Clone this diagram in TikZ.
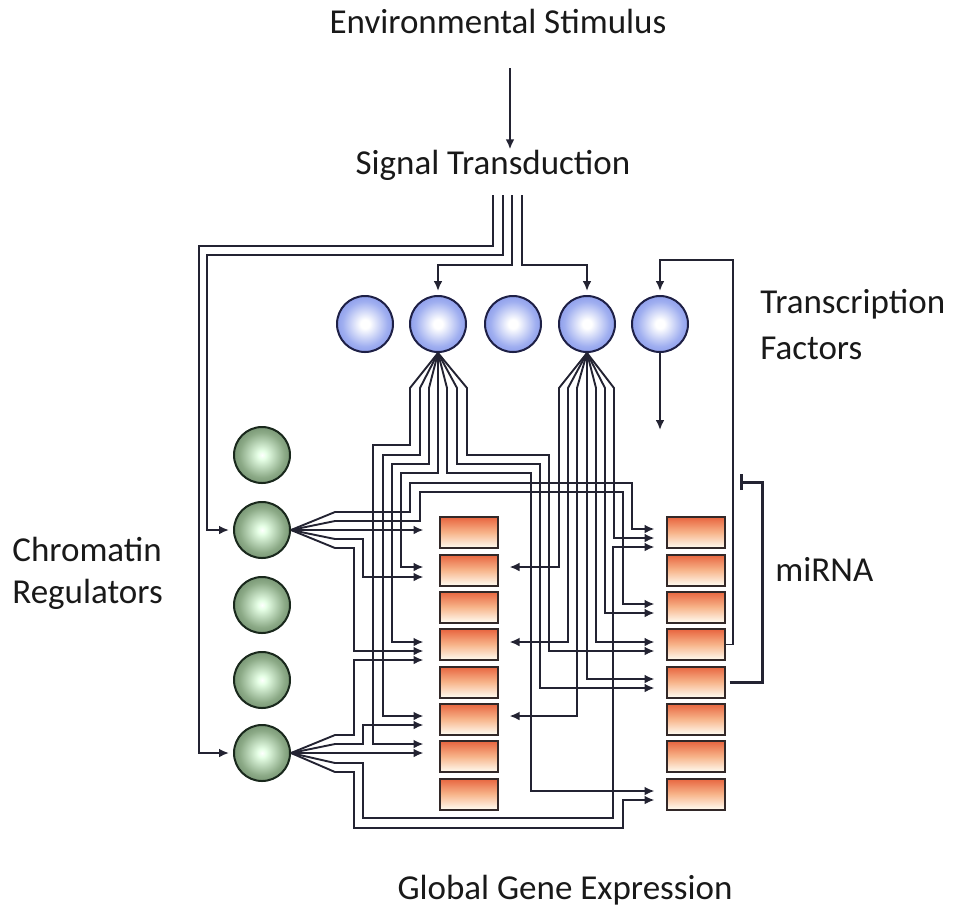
\documentclass[tikz,border=0pt]{standalone}
\usepackage{fontspec}
\setmainfont{Carlito}
\usetikzlibrary{arrows.meta}
\definecolor{wirec}{RGB}{35,35,50}
\definecolor{tfblue}{RGB}{88,108,222}
\definecolor{tfmid}{RGB}{160,175,240}
\definecolor{tfedge}{RGB}{30,32,70}
\definecolor{crgreen}{RGB}{62,92,62}
\definecolor{crmid}{RGB}{140,170,135}
\definecolor{credge}{RGB}{25,40,28}
\definecolor{boxtop}{RGB}{232,100,62}
\definecolor{boxmid}{RGB}{247,180,138}
\definecolor{boxbot}{RGB}{255,252,242}
\definecolor{boxedge}{RGB}{50,40,40}
\definecolor{labelc}{RGB}{25,25,25}
\pgfdeclareradialshading{tfball}{\pgfpoint{0bp}{0bp}}{color(0bp)=(white); color(4bp)=(white); color(20bp)=(tfmid); color(42bp)=(tfblue); color(50bp)=(tfblue)}
\pgfdeclareradialshading{crball}{\pgfpoint{0bp}{0bp}}{color(0bp)=(white); color(4bp)=(white!90!green); color(20bp)=(crmid); color(42bp)=(crgreen); color(50bp)=(crgreen)}

\begin{document}
\begin{tikzpicture}[x=0.5pt,y=-0.5pt,
  tf/.style={circle,draw=tfedge,line width=1pt,shade,shading=tfball,minimum size=28pt,inner sep=0},
  cr/.style={circle,draw=credge,line width=1pt,shade,shading=crball,minimum size=28pt,inner sep=0},
  gene/.style={rectangle,draw=boxedge,line width=1pt,top color=boxtop,bottom color=boxbot,middle color=boxmid,minimum width=29pt,minimum height=15.5pt,inner sep=0},
  wire/.style={draw=wirec,line width=0.95pt},
  arr/.style={wire,-{Latex[length=5pt,width=4.4pt]}},
  gap/.style={shorten >=5.5pt},
  gapL/.style={shorten >=7.5pt},
  lbl/.style={font=\fontsize{17.5}{22}\selectfont,text=labelc,inner sep=0}]
\useasboundingbox (0,0) rectangle (953,912);
% labels
\node[lbl,anchor=base] (env) at (498,33) {Environmental Stimulus};
\node[lbl,anchor=base] (sig) at (493,174) {Signal Transduction};
\node[lbl,anchor=base west,align=left,font=\fontsize{17.5}{23}\selectfont] (tflab) at (760,359) {Transcription\\Factors};
\node[lbl,anchor=base west,align=left,font=\fontsize{17.5}{21}\selectfont] (crlab) at (12,603) {Chromatin\\Regulators};
\node[lbl,anchor=base west] (mirlab) at (775,581) {miRNA};
\node[lbl,anchor=base] (gge) at (565,899) {Global Gene Expression};
% transcription factors
\node[tf] (tf1) at (365,324) {};
\node[tf] (tf2) at (438,324) {};
\node[tf] (tf3) at (513,324) {};
\node[tf] (tf4) at (587,324) {};
\node[tf] (tf5) at (660,324) {};
% chromatin regulators
\node[cr] (cr1) at (262,455) {};
\node[cr] (cr2) at (262,530) {};
\node[cr] (cr3) at (262,605) {};
\node[cr] (cr4) at (262,680) {};
\node[cr] (cr5) at (262,753) {};
% genes
\node[gene] (gl1) at (468.5,532.5) {};
\node[gene] (gl2) at (468.5,570) {};
\node[gene] (gl3) at (468.5,607) {};
\node[gene] (gl4) at (468.5,644.5) {};
\node[gene] (gl5) at (468.5,682) {};
\node[gene] (gl6) at (468.5,719) {};
\node[gene] (gl7) at (468.5,756.5) {};
\node[gene] (gl8) at (468.5,794) {};
% miRNA
\node[gene] (mr1) at (695.5,532.5) {};
\node[gene] (mr2) at (695.5,570) {};
\node[gene] (mr3) at (695.5,607) {};
\node[gene] (mr4) at (695.5,644.5) {};
\node[gene] (mr5) at (695.5,682) {};
\node[gene] (mr6) at (695.5,719) {};
\node[gene] (mr7) at (695.5,756.5) {};
\node[gene] (mr8) at (695.5,794) {};
% stimulus
\coordinate (envout) at (510,68);
\draw[arr] (envout) -- (sig.north -| envout);
\coordinate (s1) at (493,195);
\coordinate (s2) at (503,195);
\coordinate (s3) at (512,195);
\coordinate (s4) at (522,195);
\draw[arr,shorten >=2pt] (s1) |- (199,246) |- (cr5.west);
\draw[arr,shorten >=2pt] (s2) |- (207,255) |- (cr2.west);
\draw[arr,shorten >=2pt] (s3) |- (438,265) -- (tf2.north);
\draw[arr,shorten >=2pt] (s4) |- (587,265) -- (tf4.north);
% TF2 targets
\draw[arr,gapL] (tf2.south) -- (410,388) |- (373,445) |- (gl7.west |- 0,744);
\draw[arr,gapL] (tf2.south) -- (420,388) |- (383,455) |- (gl6.west |- 0,716);
\draw[arr,gapL] (tf2.south) -- (429,388) |- (392,464) |- (gl4.west |- 0,642);
\draw[arr,gapL] (tf2.south) -- (438,388) |- (401,473) |- (gl2.west |- 0,567);
\draw[arr,gap] (tf2.south) -- (447,388) |- (531,473) |- (mr8.west |- 0,791);
\draw[arr,gap] (tf2.south) -- (457,388) |- (540,464) |- (mr5.west |- 0,688);
\draw[arr,gap] (tf2.south) -- (467,388) |- (549,455) |- (mr4.west |- 0,651);
% TF4 targets
\draw[arr,gap] (tf4.south) -- (559,388) |- (gl2.east |- 0,567);
\draw[arr,gap] (tf4.south) -- (568,388) |- (gl4.east |- 0,642);
\draw[arr,gap] (tf4.south) -- (577,388) |- (gl6.east |- 0,716);
\draw[arr,gap] (tf4.south) -- (587,388) |- (mr5.west |- 0,679);
\draw[arr,gap] (tf4.south) -- (596,388) |- (mr4.west |- 0,642);
\draw[arr,gap] (tf4.south) -- (605,388) |- (mr3.west |- 0,613);
\draw[arr,gap] (tf4.south) -- (614,388) |- (mr1.west |- 0,538);
% CR2 targets
\draw[arr,gap] (cr2.east) -- (335,512) -| (410,483) -| (632,529) -- (mr1.west |- 0,529);
\draw[arr,gap] (cr2.east) -- (335,521) -| (420,492) -| (623,604) -- (mr3.west |- 0,604);
\draw[arr,gapL] (cr2.east) -- (gl1.west |- cr2.east);
\draw[arr,gapL] (cr2.east) -- (335,539) -| (363,577) -- (gl2.west |- 0,577);
\draw[arr,gapL] (cr2.east) -- (335,548) -| (354,651) -- (gl4.west |- 0,651);
% CR5 targets
\draw[arr,gapL] (cr5.east) -- (335,735) -| (354,660) -- (gl4.west |- 0,660);
\draw[arr,gapL] (cr5.east) -- (335,744) -| (363,725) -- (gl6.west |- 0,725);
\draw[arr,gapL] (cr5.east) -- (gl7.west |- cr5.east);
\draw[arr,gap] (cr5.east) -- (335,763) -| (363,818) -| (613,547) -- (mr1.west |- 0,547);
\draw[arr,gap] (cr5.east) -- (335,772) -| (354,828) -| (623,800) -- (mr8.west |- 0,800);
% miRNA feedback
\draw[arr,shorten >=2pt] (mr4.east) -| (733,260) -| (tf5.north);
\coordinate (tfout) at (660,430);
\draw[arr] (tf5.south) -- (tfout);
\draw[wire,line width=1.5pt,-{Bar[width=8pt]},shorten <=2pt] (mr5.east) -- (762,682) |- (740,482);
\end{tikzpicture}
\end{document}
